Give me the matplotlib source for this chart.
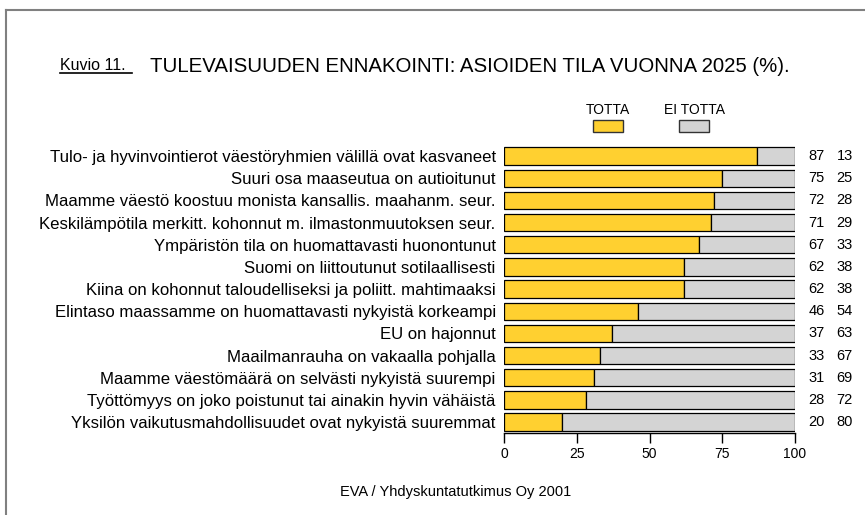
import matplotlib
matplotlib.use("Agg")
import matplotlib.pyplot as plt
from matplotlib.lines import Line2D
from matplotlib.patches import Rectangle

plt.rcParams['font.family'] = ['Liberation Sans', 'DejaVu Sans']

# data (top to bottom as in the picture)
labels = [
    "Tulo- ja hyvinvointierot väestöryhmien välillä ovat kasvaneet",
    "Suuri osa maaseutua on autioitunut",
    "Maamme väestö koostuu monista kansallis. maahanm. seur.",
    "Keskilämpötila merkitt. kohonnut m. ilmastonmuutoksen seur.",
    "Ympäristön tila on huomattavasti huonontunut",
    "Suomi on liittoutunut sotilaallisesti",
    "Kiina on kohonnut taloudelliseksi ja poliitt. mahtimaaksi",
    "Elintaso maassamme on huomattavasti nykyistä korkeampi",
    "EU on hajonnut",
    "Maailmanrauha on vakaalla pohjalla",
    "Maamme väestömäärä on selvästi nykyistä suurempi",
    "Työttömyys on joko poistunut tai ainakin hyvin vähäistä",
    "Yksilön vaikutusmahdollisuudet ovat nykyistä suuremmat",
]
totta = [87, 75, 72, 71, 67, 62, 62, 46, 37, 33, 31, 28, 20]
ei_totta = [13, 25, 28, 29, 33, 38, 38, 54, 63, 67, 69, 72, 80]
xticks = [0, 25, 50, 75, 100]

yellow = "#FFD030"
grey = "#D4D4D4"

fig = plt.figure(figsize=(8.65, 5.15), dpi=100)
ax = fig.add_axes([0.5827, 0.159, 0.9191 - 0.5827, 0.5594])

n = len(labels)
ypos = [n - 1 - i for i in range(n)]
ax.barh(ypos, totta, height=0.78, color=yellow, edgecolor="black", linewidth=0.9)
ax.barh(ypos, ei_totta, left=totta, height=0.78, color=grey, edgecolor="black", linewidth=0.9)

ax.set_xlim(0, 100)
ax.set_ylim(-0.5, n - 0.5)
ax.set_yticks(ypos)
ax.set_yticklabels(labels, fontsize=12.1)
ax.tick_params(axis="y", length=0, pad=6)
ax.set_xticks(xticks)
ax.tick_params(axis="x", length=7, width=1, labelsize=10, pad=3, direction="out")
for s in ["left", "right", "top"]:
    ax.spines[s].set_visible(False)
ax.spines["bottom"].set_linewidth(1)

# value columns on the right
for y, a, b in zip(ypos, totta, ei_totta):
    ax.text(110.3, y, str(a), ha="right", va="center", fontsize=10.5)
    ax.text(119.9, y, str(b), ha="right", va="center", fontsize=10.5)

# title
fig.text(60 / 865, 1 - 70 / 515, "Kuvio 11.", fontsize=11.5, ha="left", va="baseline")
fig.add_artist(Line2D([60 / 865, 132 / 865], [1 - 73 / 515, 1 - 73 / 515],
                      color="black", linewidth=1.2, transform=fig.transFigure))
fig.text(150 / 865, 1 - 72 / 515, "TULEVAISUUDEN ENNAKOINTI: ASIOIDEN TILA VUONNA 2025 (%).",
         fontsize=14.7, ha="left", va="baseline")

# legend
for cx, txt, col in [(608, "TOTTA", yellow), (694, "EI TOTTA", grey)]:
    fig.text(cx / 865, 1 - 110 / 515, txt, fontsize=10, ha="center", va="center")
    fig.add_artist(Rectangle(((cx - 15) / 865, 1 - 132 / 515), 30 / 865, 12 / 515,
                             facecolor=col, edgecolor="#333333", linewidth=1,
                             transform=fig.transFigure))

fig.text(456 / 865, 1 - 492 / 515, "EVA / Yhdyskuntatutkimus Oy 2001", fontsize=10.5,
         ha="center", va="center")

# frame lines
fig.add_artist(Line2D([6 / 865, 1], [1 - 10 / 515, 1 - 10 / 515], color="#808080",
                      linewidth=1.5, transform=fig.transFigure))
fig.add_artist(Line2D([6 / 865, 6 / 865], [0, 1 - 10 / 515], color="#808080",
                      linewidth=1.5, transform=fig.transFigure))

fig.savefig("out.png", dpi=100)
